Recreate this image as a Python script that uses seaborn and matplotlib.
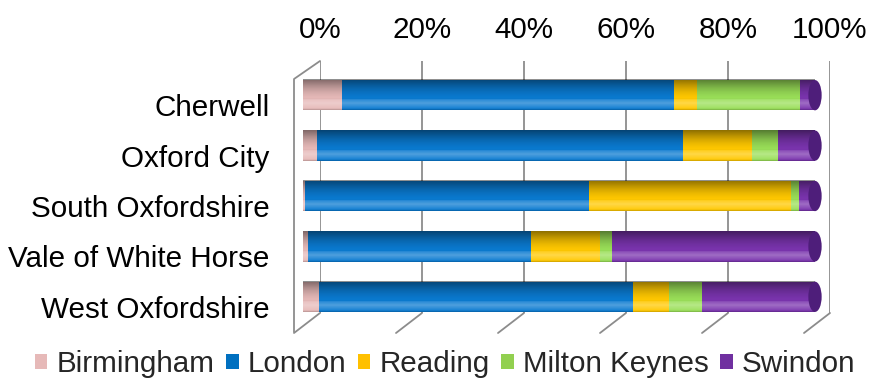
import numpy as np
import pandas as pd
import matplotlib
matplotlib.use("Agg")
import matplotlib.pyplot as plt
from matplotlib.lines import Line2D
from matplotlib.patches import Patch, Ellipse
from matplotlib.transforms import ScaledTranslation
import seaborn as sns

categories = ["Cherwell", "Oxford City", "South Oxfordshire", "Vale of White Horse", "West Oxfordshire"]
series_names = ["Birmingham", "London", "Reading", "Milton Keynes", "Swindon"]
birmingham = [7.6, 2.8, 0.4, 1.0, 3.2]
london = [64.9, 71.5, 55.5, 43.5, 61.3]
reading = [4.4, 13.3, 39.5, 13.6, 7.0]
milton_keynes = [20.2, 5.2, 1.5, 2.2, 6.4]
swindon = [2.9, 7.2, 3.1, 39.7, 22.1]
tick_values = [0, 20, 40, 60, 80, 100]
tick_labels = ["0%", "20%", "40%", "60%", "80%", "100%"]
colors = ["#E6B9B8", "#0A7AD0", "#FFC800", "#9ADF58", "#7A34AE"]
legend_colors = ["#E6B9B8", "#0070C0", "#FFC000", "#92D050", "#7030A0"]

sns.set_theme(style="white")
plt.rcParams["font.family"] = ["Liberation Sans", "DejaVu Sans"]
FS = 21.3

W, H = 869, 379
fig = plt.figure(figsize=(W / 100, H / 100), dpi=100)

def fx(px):
    return px / W

def fy(py):
    return 1 - py / H

# back wall axes (gridlines + top tick labels)
ax2 = fig.add_axes([fx(320), fy(313), fx(830) - fx(320), fy(61) - fy(313)])
ax2.set_xlim(0, 100)
ax2.set_ylim(0, 1)
ax2.xaxis.tick_top()
ax2.set_xticks(tick_values)
ax2.set_xticklabels(tick_labels, fontsize=FS)
ax2.tick_params(axis="x", length=0, pad=12, colors="black")
ax2.set_yticks([])
for s in ax2.spines.values():
    s.set_visible(False)
ax2.patch.set_alpha(0)
gridc = "#8C8C8C"
for t in tick_values:
    ax2.axvline(t, color=gridc, lw=1.3, zorder=0)

# floor diagonals and left wall edge (figure-pixel decoration)
dx, dy = -26, 20
for t in tick_values:
    xb = 320 + (830 - 320) * t / 100
    fig.add_artist(Line2D([fx(xb), fx(xb + dx)], [fy(313), fy(313 + dy)],
                          color=gridc, lw=1.3))
fig.add_artist(Line2D([fx(320), fx(294), fx(294)], [fy(61), fy(79), fy(332)],
                      color=gridc, lw=1.3))

# bar axes
ax = fig.add_axes([fx(303), fy(322), fx(815) - fx(303), fy(70) - fy(322)])
ax.patch.set_alpha(0)

data = {
    "Birmingham": birmingham,
    "London": london,
    "Reading": reading,
    "Milton Keynes": milton_keynes,
    "Swindon": swindon,
}
df = pd.DataFrame(data, index=categories)
cum = df.cumsum(axis=1)

for name, col in reversed(list(zip(series_names, colors))):
    d = pd.DataFrame({"category": categories, "value": cum[name].values})
    sns.barplot(data=d, x="value", y="category", color=col, orient="h",
                width=0.6, ax=ax, saturation=1, linewidth=0)

ax.set_xlim(0, 100)
ax.set_ylim(4.5, -0.5)
ax.set_xlabel("")
ax.set_ylabel("")
ax.set_xticks([])
ax.tick_params(axis="y", length=0, pad=24, labelsize=FS, colors="black")
for s in ax.spines.values():
    s.set_visible(False)
shift = ScaledTranslation(0, -10 / 100, fig.dpi_scale_trans)
for lab in ax.get_yticklabels():
    lab.set_transform(lab.get_transform() + shift)

# cylinder shading on each full bar (the first drawn layer = totals)
n = len(categories)
total_patches = ax.patches[:n]
grad = np.linspace(0, 1, 64)
rgba = np.zeros((64, 1, 4))
for i, g in enumerate(grad):
    if g < 0.35:
        rgba[i, 0, :3] = 1.0
        a = 0.28 * (1 - abs(g - 0.22) / 0.22) if g > 0.05 else 0.0
        rgba[i, 0, 3] = max(a, 0)
    else:
        rgba[i, 0, :3] = 0.0
        rgba[i, 0, 3] = 0.45 * ((g - 0.35) / 0.65) ** 1.6
rgba[:3, 0, :3] = 0.0
rgba[:3, 0, 3] = 0.15
for p in total_patches:
    x0, y0 = p.get_x(), p.get_y()
    w, h = p.get_width(), p.get_height()
    ax.imshow(rgba, extent=[x0, x0 + w, y0, y0 + h], aspect="auto",
              zorder=5, interpolation="bilinear")
    ax.add_patch(Ellipse((x0 + w, y0 + h / 2), width=2.6, height=h,
                         facecolor="#4E1E7A", edgecolor="none", zorder=6,
                         clip_on=False))
ax.set_xlim(0, 100)
ax.set_ylim(4.5, -0.5)

handles = [Patch(facecolor=c, edgecolor="none") for c in legend_colors]
fig.legend(handles, series_names, loc="center", bbox_to_anchor=(fx(445), fy(364)),
           ncol=5, frameon=False, fontsize=FS, handlelength=0.42,
           handleheight=0.42, handletextpad=0.3, columnspacing=0.4,
           borderpad=0, borderaxespad=0)

fig.savefig("out.png", dpi=100)
